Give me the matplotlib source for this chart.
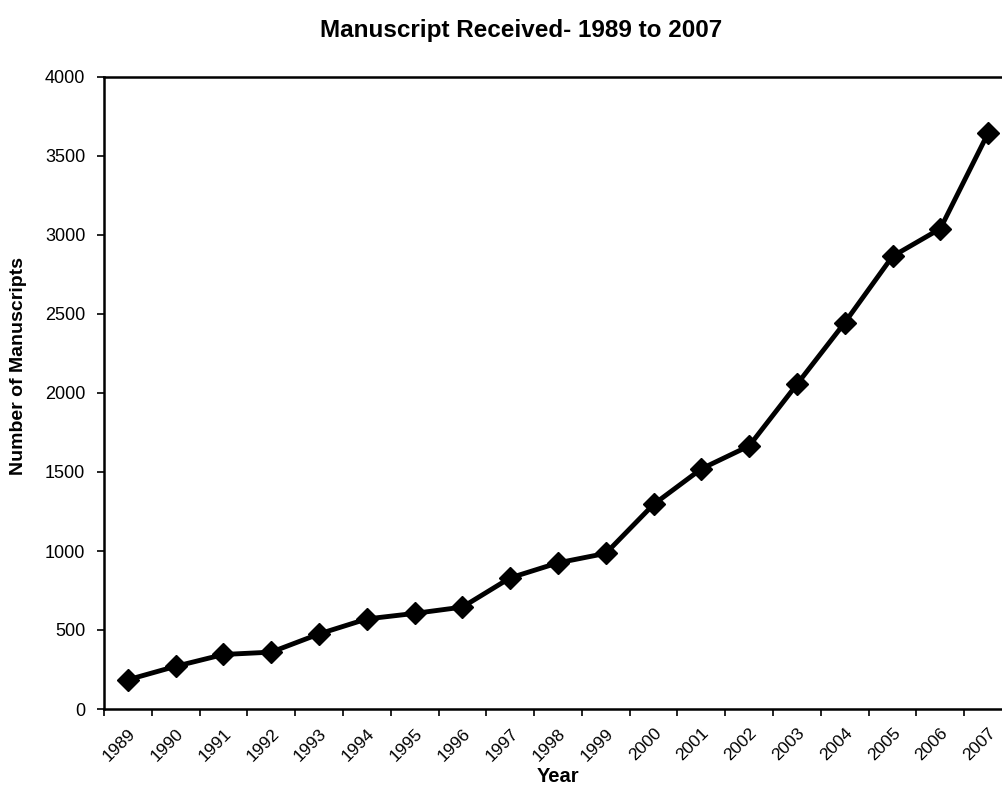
import numpy as np
import matplotlib
matplotlib.use("Agg")
from matplotlib import pyplot as plt

# data
years = ['1989', '1990', '1991', '1992', '1993', '1994', '1995', '1996', '1997', '1998',
         '1999', '2000', '2001', '2002', '2003', '2004', '2005', '2006', '2007']
manuscripts = [185, 270, 345, 360, 475, 570, 605, 645, 830, 925,
               985, 1295, 1520, 1665, 2055, 2445, 2865, 3040, 3645]
y_ticks = [0, 500, 1000, 1500, 2000, 2500, 3000, 3500, 4000]

plt.rcParams['font.family'] = ['Liberation Sans', 'DejaVu Sans']

fig = plt.figure(figsize=(10.02, 7.89), dpi=100)
ax = fig.add_axes([104 / 1002, 1 - 709 / 789, 908 / 1002, 632 / 789])

x = np.arange(len(years))
ax.plot(x, manuscripts, color='black', lw=3.5, marker='D', ms=11,
        markerfacecolor='black', markeredgecolor='black', clip_on=False)

ax.set_xlim(-0.5, len(years) - 0.5)
ax.set_ylim(0, 4000)

# labels at category centres, tick marks on category boundaries (excel style)
ax.set_xticks(x)
ax.set_xticklabels(years, rotation=45, ha='right', va='top', rotation_mode='anchor',
                   fontsize=12.5)
ax.set_xticks(np.arange(len(years) + 1) - 0.5, minor=True)
ax.tick_params(axis='x', which='major', length=0, pad=12)
ax.tick_params(axis='x', which='minor', length=5, width=1.2, direction='out')

ax.set_yticks(y_ticks)
ax.set_yticklabels([str(v) for v in y_ticks], fontsize=13)
ax.tick_params(axis='y', length=5, width=1.2, direction='out', pad=8.5)

for s in ax.spines.values():
    s.set_linewidth(1.8)

ax.set_xlabel('Year', fontsize=14.5, fontweight='bold', labelpad=2)
fig.text(19 / 1002, 1 - 366 / 789, 'Number of Manuscripts', rotation=90,
         ha='center', va='center', fontsize=14, fontweight='bold')
fig.text(521 / 1002, 1 - 31 / 789, 'Manuscript Received- 1989 to 2007',
         ha='center', va='center', fontsize=17.5, fontweight='bold')

fig.savefig('out.png', dpi=100)
